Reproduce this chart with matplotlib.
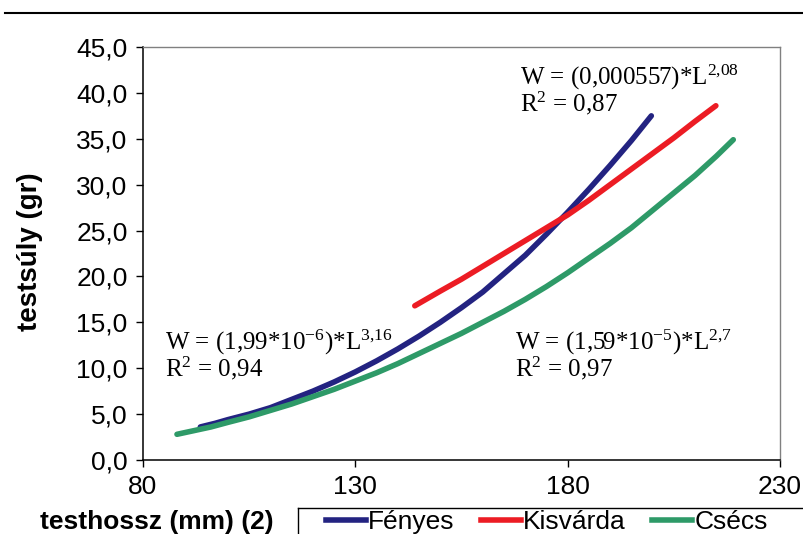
import matplotlib
matplotlib.use("Agg")
import matplotlib.pyplot as plt
from matplotlib.lines import Line2D

plt.rcParams['mathtext.fontset'] = 'custom'
plt.rcParams['mathtext.rm'] = 'Liberation Serif'
plt.rcParams['mathtext.it'] = 'Liberation Serif'

# Fényes
fenyes_x = [93.5, 97, 100, 105, 110, 115, 120, 125, 130, 135, 140, 145, 150, 155, 160,
            165, 170, 175, 180, 185, 190, 195, 199.7]
fenyes_y = [3.6, 4.0, 4.4, 5.0, 5.7, 6.6, 7.5, 8.5, 9.6, 10.8, 12.1, 13.5, 15.0, 16.6, 18.3,
            20.3, 22.3, 24.6, 27.0, 29.5, 32.1, 34.8, 37.5]
# Kisvárda
kisvarda_x = [144, 150, 155, 160, 165, 170, 175, 180, 185, 190, 195, 200, 205, 210, 214.9]
kisvarda_y = [16.8, 18.4, 19.7, 21.1, 22.5, 23.9, 25.3, 26.7, 28.3, 30.0, 31.7, 33.4, 35.1, 36.9, 38.6]
# Csécs
csecs_x = [88, 92, 96, 100, 105, 110, 115, 120, 125, 130, 135, 140, 145, 150, 155, 160,
           165, 170, 175, 180, 185, 190, 195, 200, 205, 210, 215, 219]
csecs_y = [2.8, 3.2, 3.6, 4.1, 4.7, 5.4, 6.1, 6.9, 7.7, 8.6, 9.5, 10.5, 11.6, 12.7, 13.8, 15.0,
           16.2, 17.5, 18.9, 20.4, 22.0, 23.6, 25.3, 27.2, 29.1, 31.0, 33.1, 34.9]

series_names = ["Fényes", "Kisvárda", "Csécs"]
colors = ["#232381", "#ec1c24", "#2e9a68"]

x_ticks = [80, 130, 180, 230]
y_ticks = [0, 5, 10, 15, 20, 25, 30, 35, 40, 45]
y_tick_labels = [f"{v:.1f}".replace(".", ",") for v in y_ticks]

fig = plt.figure(figsize=(8.04, 5.34), dpi=100)
ax = fig.add_axes([143/804, 1-460/534, (780-143)/804, (460-47)/534])

for xs, ys, c, n in zip([fenyes_x, kisvarda_x, csecs_x], [fenyes_y, kisvarda_y, csecs_y], colors, series_names):
    ax.plot(xs, ys, color=c, lw=4.0, solid_capstyle='round', solid_joinstyle='round', label=n)

ax.set_xlim(80, 230)
ax.set_ylim(0, 45)
ax.set_xticks(x_ticks)
ax.set_xticklabels([str(v) for v in x_ticks], fontsize=19, family='Liberation Sans')
ax.set_yticks(y_ticks)
ax.set_yticklabels(y_tick_labels, fontsize=19, family='Liberation Sans')
ax.tick_params(direction='out', length=5, width=1, color='black')
ax.tick_params(axis='y', pad=6)
ax.tick_params(axis='x', pad=6)
for s in ['left', 'bottom']:
    ax.spines[s].set_color('black')
    ax.spines[s].set_linewidth(1.1)
for s in ['top', 'right']:
    ax.spines[s].set_color('#808080')
    ax.spines[s].set_linewidth(1.0)

fig.text(30/804, 1-252/534, "testsúly (gr)", fontsize=20, fontweight='bold', family='Liberation Sans',
         rotation=90, ha='center', va='center')

fig.text(40/804, 1-522/534, "testhossz (mm) (2)", fontsize=19, fontweight='bold',
         family='Liberation Sans', ha='left', va='center')

tkw = dict(fontsize=18, family='Liberation Serif', ha='left', va='center')
fig.text(520/804, 1-77/534, r"W = (0,000557)*L$^{\mathrm{2{,}08}}$", **tkw)
fig.text(520/804, 1-103/534, r"R$^{\mathrm{2}}$ = 0,87", **tkw)
fig.text(165/804, 1-342/534, r"W = (1,99*10$^{\mathrm{-6}}$)*L$^{\mathrm{3{,}16}}$", **tkw)
fig.text(165/804, 1-368/534, r"R$^{\mathrm{2}}$ = 0,94", **tkw)
fig.text(515/804, 1-342/534, r"W = (1,59*10$^{\mathrm{-5}}$)*L$^{\mathrm{2{,}7}}$", **tkw)
fig.text(515/804, 1-368/534, r"R$^{\mathrm{2}}$ = 0,97", **tkw)

# top rule
fig.add_artist(Line2D([5/804, 1.0], [1-13/534, 1-13/534], color='black', lw=1.5, transform=fig.transFigure))

# legend box edges (box runs off the figure)
fig.add_artist(Line2D([298/804, 298/804], [0, 1-508/534], color='black', lw=1.0, transform=fig.transFigure))
fig.add_artist(Line2D([298/804, 1.0], [1-508/534, 1-508/534], color='black', lw=1.0, transform=fig.transFigure))

handles = [Line2D([0], [0], color=c, lw=4.0) for c in colors]
leg = fig.legend(handles, series_names, loc='center left', bbox_to_anchor=(326/804, 1-522/534),
                 ncol=3, frameon=False,
                 prop={'family': 'Liberation Sans', 'size': 19}, handlelength=1.5,
                 handletextpad=0.1, columnspacing=1.0, borderpad=0, borderaxespad=0)

fig.savefig("out.png", dpi=100)
